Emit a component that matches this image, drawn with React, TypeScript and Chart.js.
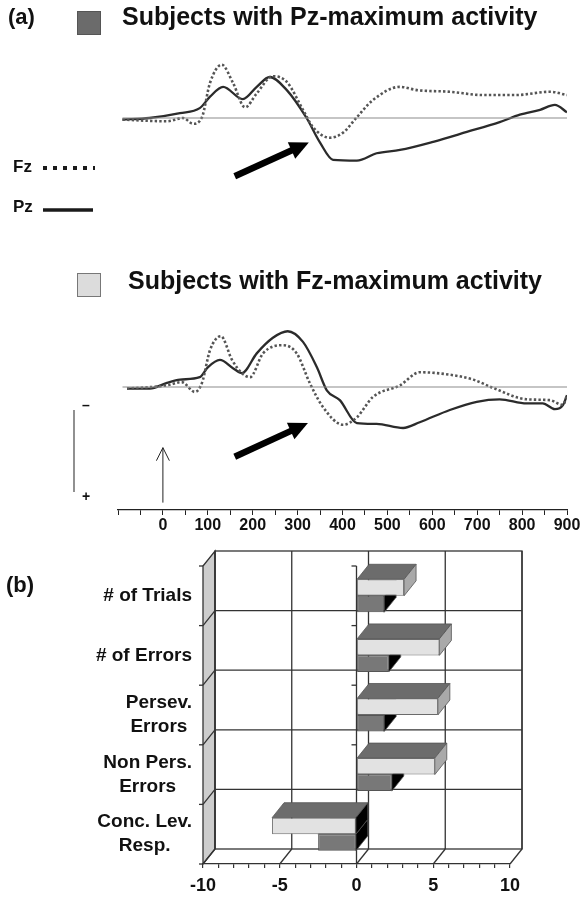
import React, { useEffect, useRef } from 'react';
import { Chart, registerables } from 'chart.js';

Chart.register(...registerables);

const FONT = '"Liberation Sans", Arial, Helvetica, sans-serif';

// ---------- Panel (a): ERP waveforms (time in ms, amplitude in µV, negative up) ----------
const TIME_MIN = -100;
const TIME_MAX = 900;
const TIME_TICK_LABELS = [0, 100, 200, 300, 400, 500, 600, 700, 800, 900];

// Subjects with Pz-maximum activity
const PZMAX_FZ_T = [-90, 9, 45, 67, 87, 105, 131, 156, 183, 209, 245, 276, 312, 334, 372, 401, 432, 468, 528, 566, 639, 713, 786, 862, 900];
const PZMAX_FZ_V = [0.2, 0.4, 0, 0.7, -0.1, -4.3, -6.5, -4.3, -1.3, -3.0, -5.1, -4.4, -1.0, 1.1, 2.4, 1.8, -0.1, -2.2, -3.8, -3.4, -3.2, -2.8, -2.8, -3.2, -2.8];
const PZMAX_PZ_T = [-90, -30, 38, 82, 105, 134, 178, 209, 238, 276, 320, 350, 379, 432, 476, 528, 602, 677, 750, 795, 840, 873, 900];
const PZMAX_PZ_V = [0.2, 0, -0.6, -1.2, -2.6, -3.8, -2.3, -3.8, -5.0, -3.4, 0, 3.0, 5.1, 5.2, 4.3, 3.9, 2.9, 1.7, 0.5, -0.4, -1.0, -1.6, -0.7];

// Subjects with Fz-maximum activity
const FZMAX_FZ_T = [-80, 9, 42, 71, 87, 105, 129, 154, 176, 194, 223, 267, 298, 327, 356, 401, 432, 468, 528, 572, 639, 691, 735, 810, 862, 891, 900];
const FZMAX_FZ_V = [0.2, -0.2, -0.6, 0.6, -0.5, -4.5, -6.2, -3.3, -1.7, -1.2, -4.1, -5.1, -4.1, -0.5, 2.4, 4.6, 3.7, 1.2, -0.2, -1.8, -1.5, -0.9, 0.1, 1.5, 1.6, 2.2, 1.0];
const FZMAX_PZ_T = [-80, -29, 9, 38, 82, 100, 127, 156, 176, 209, 245, 278, 312, 343, 365, 394, 432, 476, 535, 572, 639, 699, 750, 810, 846, 873, 891, 900];
const FZMAX_PZ_V = [0.2, 0.2, -0.5, -0.9, -1.2, -2.4, -3.3, -2.3, -1.7, -4.1, -6.0, -6.8, -5.5, -2.4, 0.4, 1.6, 4.4, 4.5, 5.0, 4.3, 2.8, 1.8, 1.5, 2.0, 2.0, 2.7, 2.2, 1.0];

const BASELINE_T = [-90, 900];
const BASELINE_V = [0, 0];

// annotations (data units: ms, µV)
const ARROW_TOP = { t0: 160, v0: 7.1, t1: 325, v1: 3.0 };
const ARROW_BOTTOM = { t0: 160, v0: 8.5, t1: 323, v1: 4.4 };
const ONSET = { t: 0, v0: 14.1, v1: 7.4 };
const SCALE_BAR = { t: -198, v0: 2.8, v1: 12.8 };

// ---------- Panel (b): 3-D horizontal bars ----------
const MEASURES: string[][] = [
  ['# of Trials'],
  ['# of Errors'],
  ['Persev.', 'Errors'],
  ['Non Pers.', 'Errors'],
  ['Conc. Lev.', 'Resp.'],
];
const FZMAX_GROUP = [3.1, 5.4, 5.3, 5.1, -5.5];
const PZMAX_GROUP = [1.8, 2.1, 1.8, 2.3, -2.5];
const BAR_MIN = -10;
const BAR_MAX = 10;
const BAR_TICK_LABELS = [-10, -5, 0, 5, 10];

const pts = (t: number[], v: number[]) => t.map((x, i) => ({ x, y: v[i] }));

function drawThickArrow(ctx: CanvasRenderingContext2D, x1: number, y1: number, x2: number, y2: number) {
  const shaft = 6.5, headLen = 19, headW = 18;
  const ang = Math.atan2(y2 - y1, x2 - x1);
  const c = Math.cos(ang), s = Math.sin(ang);
  const bx = x2 - headLen * c, by = y2 - headLen * s;
  ctx.save();
  ctx.strokeStyle = '#000';
  ctx.fillStyle = '#000';
  ctx.lineWidth = shaft;
  ctx.lineCap = 'butt';
  ctx.beginPath();
  ctx.moveTo(x1, y1);
  ctx.lineTo(bx + c, by + s);
  ctx.stroke();
  ctx.beginPath();
  ctx.moveTo(x2, y2);
  ctx.lineTo(bx - s * headW / 2, by + c * headW / 2);
  ctx.lineTo(bx + s * headW / 2, by - c * headW / 2);
  ctx.closePath();
  ctx.fill();
  ctx.restore();
}

function lineDatasets(fzT: number[], fzV: number[], pzT: number[], pzV: number[]) {
  return [
    {
      label: 'baseline',
      data: pts(BASELINE_T, BASELINE_V),
      borderColor: '#8c8c8c',
      borderWidth: 1.2,
      pointRadius: 0,
    },
    {
      label: 'Fz',
      data: pts(fzT, fzV),
      borderColor: '#555',
      borderWidth: 2.6,
      borderDash: [2.4, 2.2],
      pointRadius: 0,
      cubicInterpolationMode: 'monotone',
    },
    {
      label: 'Pz',
      data: pts(pzT, pzV),
      borderColor: '#2b2b2b',
      borderWidth: 2.3,
      pointRadius: 0,
      cubicInterpolationMode: 'monotone',
    },
  ];
}

const arrowPlugin = (arrow: { t0: number; v0: number; t1: number; v1: number }) => ({
  id: 'thickArrow',
  afterDatasetsDraw(chart: any) {
    const { ctx, scales: { x, y } } = chart;
    drawThickArrow(ctx, x.getPixelForValue(arrow.t0), y.getPixelForValue(arrow.v0), x.getPixelForValue(arrow.t1), y.getPixelForValue(arrow.v1));
  },
});

const legendPlugin = {
  id: 'fzpzLegend',
  afterDraw(chart: any) {
    const { ctx } = chart;
    ctx.save();
    ctx.font = `bold 17px ${FONT}`;
    ctx.fillStyle = '#111';
    ctx.textBaseline = 'middle';
    ctx.textAlign = 'left';
    ctx.fillText('Fz', 13, 167);
    ctx.fillText('Pz', 13, 207);
    ctx.strokeStyle = '#1a1a1a';
    ctx.lineWidth = 4;
    ctx.setLineDash([4, 6]);
    ctx.beginPath();
    ctx.moveTo(43, 168);
    ctx.lineTo(95, 168);
    ctx.stroke();
    ctx.setLineDash([]);
    ctx.lineWidth = 3.5;
    ctx.beginPath();
    ctx.moveTo(43, 210);
    ctx.lineTo(93, 210);
    ctx.stroke();
    ctx.restore();
  },
};

const scaleBarPlugin = {
  id: 'scaleBar',
  afterDatasetsDraw(chart: any) {
    const { ctx, scales: { x, y } } = chart;
    ctx.save();
    const sx = x.getPixelForValue(SCALE_BAR.t);
    const sy0 = y.getPixelForValue(SCALE_BAR.v0);
    const sy1 = y.getPixelForValue(SCALE_BAR.v1);
    ctx.strokeStyle = '#555';
    ctx.lineWidth = 1.3;
    ctx.beginPath();
    ctx.moveTo(sx, sy0);
    ctx.lineTo(sx, sy1);
    ctx.stroke();
    ctx.fillStyle = '#111';
    ctx.font = `bold 14px ${FONT}`;
    ctx.textAlign = 'center';
    ctx.textBaseline = 'middle';
    ctx.fillText('–', sx + 12, sy0 - 4);
    ctx.fillText('+', sx + 12, sy1 + 5);
    const ox = x.getPixelForValue(ONSET.t);
    const oy0 = y.getPixelForValue(ONSET.v0);
    const oy1 = y.getPixelForValue(ONSET.v1);
    ctx.strokeStyle = '#222';
    ctx.lineWidth = 1;
    ctx.beginPath();
    ctx.moveTo(ox, oy0);
    ctx.lineTo(ox, oy1);
    ctx.moveTo(ox - 6.5, oy1 + 13);
    ctx.lineTo(ox, oy1);
    ctx.lineTo(ox + 6.5, oy1 + 13);
    ctx.stroke();
    ctx.restore();
  },
};

const DEPTH_DX = 12;
const DEPTH_DY = -15;
const TOP_FACE = ['#6c6c6c', '#5e5e5e'];
const SIDE_FACE = ['#a9a9a9', '#000000'];
const LABEL_RIGHT = 192;

function poly(ctx: CanvasRenderingContext2D, p: number[][], fill: string) {
  ctx.beginPath();
  ctx.moveTo(p[0][0], p[0][1]);
  for (let i = 1; i < p.length; i++) ctx.lineTo(p[i][0], p[i][1]);
  ctx.closePath();
  ctx.fillStyle = fill;
  ctx.fill();
  ctx.stroke();
}

function seg(ctx: CanvasRenderingContext2D, x1: number, y1: number, x2: number, y2: number) {
  ctx.beginPath();
  ctx.moveTo(x1, y1);
  ctx.lineTo(x2, y2);
  ctx.stroke();
}

const bar3dPlugin = {
  id: 'bar3d',
  beforeDatasetsDraw(chart: any) {
    const { ctx, chartArea: a, scales: { x } } = chart;
    const dx = DEPTH_DX, dy = DEPTH_DY;
    const n = chart.data.labels.length;
    const band = (a.bottom - a.top) / n;
    ctx.save();
    ctx.strokeStyle = '#333';
    ctx.lineWidth = 1.3;
    poly(ctx, [[a.left, a.top], [a.left + dx, a.top + dy], [a.left + dx, a.bottom + dy], [a.left, a.bottom]], '#cdcdcd');
    ctx.strokeRect(a.left + dx, a.top + dy, a.right - a.left, a.bottom - a.top);
    for (const v of BAR_TICK_LABELS) {
      const fx = x.getPixelForValue(v);
      seg(ctx, fx + dx, a.top + dy, fx + dx, a.bottom + dy);
      seg(ctx, fx, a.bottom, fx + dx, a.bottom + dy);
    }
    for (let i = 1; i < n; i++) {
      const py = a.top + band * i;
      seg(ctx, a.left + dx, py + dy, a.right + dx, py + dy);
      seg(ctx, a.left, py, a.left + dx, py + dy);
    }
    for (let i = 0; i <= n; i++) {
      const py = a.top + band * i;
      seg(ctx, a.left - 4, py, a.left, py);
    }
    const z = x.getPixelForValue(0);
    seg(ctx, z, a.top, z, a.bottom);
    for (let i = 0; i < n; i++) {
      const py = a.top + band * i;
      seg(ctx, z - 5, py, z, py);
    }
    ctx.lineWidth = 0.8;
    ctx.strokeStyle = '#555';
    for (let di = chart.data.datasets.length - 1; di >= 0; di--) {
      const meta = chart.getDatasetMeta(di);
      const vals = chart.data.datasets[di].data;
      meta.data.forEach((el: any, i: number) => {
        const { x: px, y: py, base, height } = el.getProps(['x', 'y', 'base', 'height'], true);
        const l = Math.min(px, base), r = Math.max(px, base);
        const t = py - height / 2, b = py + height / 2;
        poly(ctx, [[l, t], [l + dx, t + dy], [r + dx, t + dy], [r, t]], TOP_FACE[di]);
        poly(ctx, [[r, t], [r + dx, t + dy], [r + dx, b + dy], [r, b]], vals[i] < 0 ? '#000' : SIDE_FACE[di]);
      });
    }
    ctx.restore();
  },
  afterDraw(chart: any) {
    const { ctx, scales: { y } } = chart;
    ctx.save();
    ctx.font = `bold 19px ${FONT}`;
    ctx.fillStyle = '#111';
    ctx.textAlign = 'center';
    ctx.textBaseline = 'middle';
    chart.data.labels.forEach((lab: string | string[], i: number) => {
      const lines = Array.isArray(lab) ? lab : [lab];
      const w = Math.max(...lines.map((s) => ctx.measureText(s).width));
      const cx = LABEL_RIGHT - w / 2;
      const cy = y.getPixelForValue(i);
      lines.forEach((s, j) => ctx.fillText(s, cx, cy + (j - (lines.length - 1) / 2) * 24));
    });
    ctx.restore();
  },
};

function erpConfig(fzT: number[], fzV: number[], pzT: number[], pzV: number[], withAxis: boolean, arrow: any, extra: any[]): any {
  const xScale: any = {
    type: 'linear',
    min: TIME_MIN,
    max: TIME_MAX,
    display: withAxis,
    ticks: {
      stepSize: 50,
      autoSkip: false,
      maxRotation: 0,
      padding: 1,
      color: '#111',
      font: { family: FONT, size: 16, weight: 'bold' },
      callback: (v: number) => (TIME_TICK_LABELS.includes(v) ? String(v) : ''),
    },
    grid: { drawOnChartArea: false, drawTicks: true, tickLength: 5, color: '#222', lineWidth: 1 },
    border: { display: true, color: '#222', width: 1.3 },
  };
  if (withAxis) xScale.afterFit = (s: any) => { s.height = 30; };
  return {
    type: 'line',
    data: { datasets: lineDatasets(fzT, fzV, pzT, pzV) },
    options: {
      animation: false,
      responsive: false,
      maintainAspectRatio: false,
      events: [],
      layout: withAxis
        ? { padding: { left: 118, right: 16, top: 56.8, bottom: 10 } }
        : { padding: { left: 118, right: 16, top: 36, bottom: 13.6 } },
      plugins: { legend: { display: false }, tooltip: { enabled: false } },
      scales: {
        x: xScale,
        y: withAxis
          ? { type: 'linear', min: -11, max: 15, reverse: true, display: false }
          : { type: 'linear', min: -10, max: 12, reverse: true, display: false },
      },
    },
    plugins: [arrowPlugin(arrow), ...extra],
  };
}

function barConfig(): any {
  return {
    type: 'bar',
    data: {
      labels: MEASURES,
      datasets: [
        {
          label: 'Subjects with Fz-maximum activity',
          data: FZMAX_GROUP,
          backgroundColor: '#e2e2e2',
          borderColor: '#6a6a6a',
          borderWidth: 1,
          borderSkipped: false,
          barPercentage: 1,
          categoryPercentage: 0.554,
        },
        {
          label: 'Subjects with Pz-maximum activity',
          data: PZMAX_GROUP,
          backgroundColor: '#787878',
          borderColor: '#555',
          borderWidth: 1,
          borderSkipped: false,
          barPercentage: 1,
          categoryPercentage: 0.554,
        },
      ],
    },
    options: {
      indexAxis: 'y',
      animation: false,
      responsive: false,
      maintainAspectRatio: false,
      events: [],
      layout: { padding: { left: 203, right: 73, top: 21, bottom: 5 } },
      plugins: { legend: { display: false }, tooltip: { enabled: false } },
      scales: {
        x: {
          type: 'linear',
          min: BAR_MIN,
          max: BAR_MAX,
          afterFit: (s: any) => { s.height = 30; },
          ticks: {
            stepSize: 1,
            autoSkip: false,
            maxRotation: 0,
            padding: 7,
            color: '#111',
            font: { family: FONT, size: 18, weight: 'bold' },
            callback: (v: number) => (BAR_TICK_LABELS.includes(v) ? String(v) : ''),
          },
          grid: { drawOnChartArea: false, drawTicks: true, tickLength: 4, color: '#333', lineWidth: 1.2 },
          border: { display: true, color: '#333', width: 1.3 },
        },
        y: { type: 'category', display: false, grid: { display: false } },
      },
    },
    plugins: [bar3dPlugin],
  };
}

const textStyle = (size: number): React.CSSProperties => ({
  position: 'absolute',
  fontFamily: FONT,
  fontWeight: 'bold',
  fontSize: size,
  lineHeight: 1,
  color: '#111',
  whiteSpace: 'nowrap',
  margin: 0,
});

export default function App() {
  const c1 = useRef<HTMLCanvasElement>(null);
  const c2 = useRef<HTMLCanvasElement>(null);
  const c3 = useRef<HTMLCanvasElement>(null);

  useEffect(() => {
    const charts = [
      new Chart(c1.current!, erpConfig(PZMAX_FZ_T, PZMAX_FZ_V, PZMAX_PZ_T, PZMAX_PZ_V, false, ARROW_TOP, [legendPlugin])),
      new Chart(c2.current!, erpConfig(FZMAX_FZ_T, FZMAX_FZ_V, FZMAX_PZ_T, FZMAX_PZ_V, true, ARROW_BOTTOM, [scaleBarPlugin])),
      new Chart(c3.current!, barConfig()),
    ];
    return () => charts.forEach((c) => c.destroy());
  }, []);

  return (
    <div style={{ position: 'absolute', left: 0, top: 0, width: 583, height: 899, background: '#fff', overflow: 'hidden' }}>
      <canvas ref={c1} width={583} height={230} style={{ position: 'absolute', left: 0, top: 0, width: 583, height: 230 }} />
      <canvas ref={c2} width={583} height={310} style={{ position: 'absolute', left: 0, top: 240, width: 583, height: 310 }} />
      <canvas ref={c3} width={583} height={354} style={{ position: 'absolute', left: 0, top: 545, width: 583, height: 354 }} />

      <div style={{ ...textStyle(22), left: 8, top: 6 }}>(a)</div>
      <div style={{ position: 'absolute', left: 77, top: 11, width: 22, height: 22, background: '#6b6b6b', border: '1px solid #555' }} />
      <div style={{ ...textStyle(25), left: 122, top: 4 }}>Subjects with Pz-maximum activity</div>

      <div style={{ position: 'absolute', left: 77, top: 273, width: 22, height: 22, background: '#dcdcdc', border: '1px solid #777' }} />
      <div style={{ ...textStyle(25), left: 128, top: 268 }}>Subjects with Fz-maximum activity</div>

      <div style={{ ...textStyle(22), left: 6, top: 574 }}>(b)</div>
    </div>
  );
}
